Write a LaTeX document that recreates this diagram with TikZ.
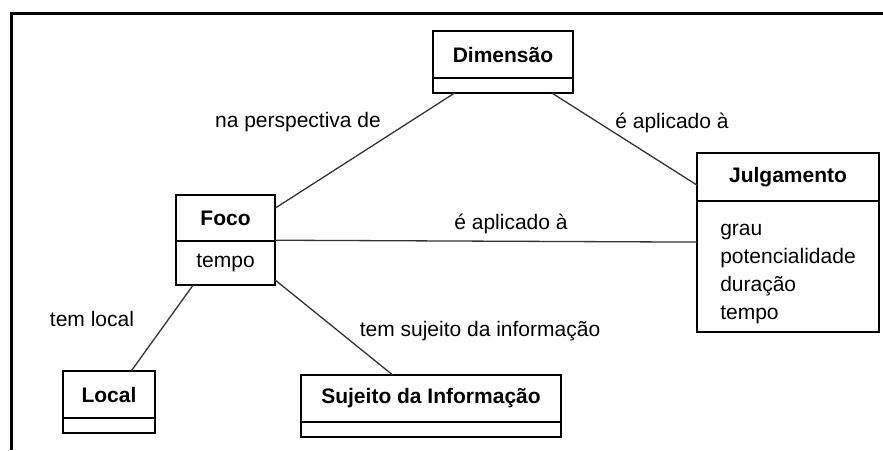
\documentclass[tikz,border=0pt]{standalone}
\usepackage{fontspec}
\setmainfont{Liberation Sans}
\usetikzlibrary{positioning,fit}
\newcommand{\tamanho}{\fontsize{21}{28}\selectfont}

\begin{document}
\begin{tikzpicture}[x=1pt,y=-1pt]
		\tikzset{
			titulo/.style=
			{font=\tamanho\bfseries,inner sep=0pt,outer sep=0pt},
			atributos/.style=
			{draw,line width=1.3pt,font=\tamanho,inner sep=0pt,outer sep=0pt,align=left},
			classe/.style=
			{draw,line width=2.8pt,inner sep=0pt,outer sep=0pt},
			ligacao/.style=
			{line width=1.3pt,draw=black!80},
			rotulo/.style=
			{font=\tamanho,inner sep=0pt,anchor=base},
		}
		\useasboundingbox (0,0) rectangle (883,450);
		\draw[line width=2.4pt] (11.3,450) -- (11.3,13.5) -- (883,13.5);

		% Dimensao
		\node[titulo,minimum width=140pt,minimum height=47pt] (dim-t) at (503,54.5) {Dimensão};
		\node[atributos,minimum width=140pt,minimum height=15pt,below=0pt of dim-t] (dim-a) {};
		\node[classe,fit=(dim-t)(dim-a)] (dim) {};

		% Julgamento
		\node[titulo,minimum width=182pt,minimum height=48pt] (jul-t) at (788,177) {Julgamento};
		\node[atributos,minimum width=182pt,minimum height=131pt,below=0pt of jul-t] (jul-a)
		{\rule{0pt}{26pt}grau\\potencialidade\\duração\\tempo};
		\node[classe,fit=(jul-t)(jul-a)] (jul) {};

		% Foco
		\node[titulo,minimum width=99pt,minimum height=46pt] (foco-t) at (225.5,218) {Foco};
		\node[atributos,minimum width=99pt,minimum height=44pt,below=0pt of foco-t] (foco-a) {tempo};
		\node[classe,fit=(foco-t)(foco-a)] (foco) {};

		% Local
		\node[titulo,minimum width=92pt,minimum height=47pt] (local-t) at (109,394.5) {Local};
		\node[atributos,minimum width=92pt,minimum height=15pt,below=0pt of local-t] (local-a) {};
		\node[classe,fit=(local-t)(local-a)] (local) {};

		% Sujeito da Informacao
		\node[titulo,minimum width=260pt,minimum height=47pt] (suj-t) at (431,398.5) {Sujeito da Informação};
		\node[atributos,minimum width=260pt,minimum height=15pt,below=0pt of suj-t] (suj-a) {};
		\node[classe,fit=(suj-t)(suj-a)] (suj) {};

		% ligacoes
		\draw[ligacao] (dim) -- (foco);
		\draw[ligacao] (dim) -- (jul);
		\draw[ligacao] (foco) -- (jul);
		\draw[ligacao] (foco) -- (local);
		\draw[ligacao] (foco) -- (suj);

		% rotulos
		\node[rotulo] (rot-persp) at (298,127) {na perspectiva de};
		\node[rotulo] (rot-apl1) at (672,128) {é aplicado à};
		\node[rotulo] (rot-apl2) at (511,229) {é aplicado à};
		\node[rotulo] (rot-local) at (92,326) {tem local};
		\node[rotulo] (rot-suj) at (480,336) {tem sujeito da informação};
\end{tikzpicture}
\end{document}
